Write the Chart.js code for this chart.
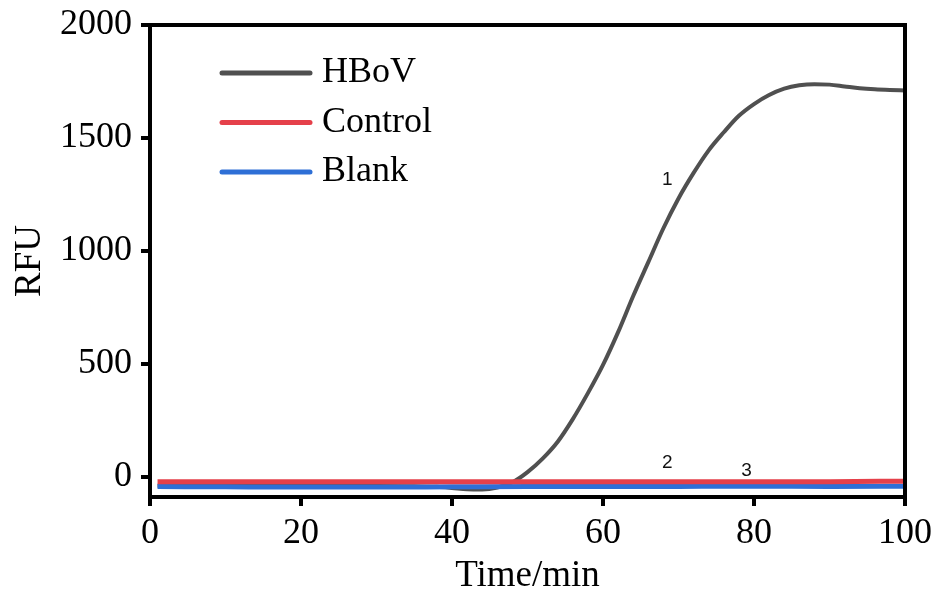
<!DOCTYPE html>
<html>
<head>
<meta charset="utf-8">
<script src="https://cdn.jsdelivr.net/npm/chart.js@4/dist/chart.umd.min.js"></script>
<style>
  html, body { margin: 0; padding: 0; background: #fff; }
  #wrap { width: 939px; height: 598px; }
</style>
</head>
<body>
<div id="wrap"><canvas id="rfuChart"></canvas></div>
<script>
// amplification curves, RFU vs time (min)
const hbovTime = [1, 5, 10, 15, 20, 25, 30, 35, 38, 40, 42, 44, 46, 48, 50, 52, 54, 56, 58, 60,
  62, 64, 66, 68, 70, 72, 74, 76, 78, 80, 82, 84, 86, 88, 90, 92, 94, 96, 98, 100];
const hbovRfu = [-40, -40, -40, -41, -41, -41, -41, -42, -45, -50, -56, -57, -48, -25, 20, 80, 155, 255, 370, 495,
  640, 800, 950, 1100, 1232, 1345, 1445, 1525, 1598, 1650, 1690, 1718, 1733, 1738, 1736, 1728, 1720, 1715, 1712, 1710];

const controlTime = [1, 10, 20, 30, 40, 50, 60, 70, 80, 90, 100];
const controlRfu = [-22, -22, -22, -22, -22, -23, -22, -22, -22, -22, -20];

const blankTime = [1, 10, 20, 30, 40, 50, 60, 70, 80, 90, 100];
const blankRfu = [-44, -45, -46, -46, -45, -44, -44, -43, -42, -43, -42];

const xTicks = [0, 20, 40, 60, 80, 100];
const yTicks = [0, 500, 1000, 1500, 2000];

// curve numbers written next to the lines
const curveTags = ['1', '2', '3'];
const tagX = [68.5, 68.5, 79];
const tagY = [1314, 62, 27];

const toPoints = (xs, ys) => xs.map((x, i) => ({ x, y: ys[i] }));

const serif = '"Liberation Serif", "Times New Roman", serif';

const frameAndLegend = {
  id: 'frameAndLegend',
  afterDatasetsDraw(chart) {
    const { ctx, chartArea: a, scales } = chart;
    ctx.save();
    // closed box around the plot
    ctx.strokeStyle = '#000';
    ctx.lineWidth = 4;
    ctx.strokeRect(a.left, a.top, a.right - a.left, a.bottom - a.top);

    // numbered tags
    ctx.fillStyle = '#111';
    ctx.font = '19px "Liberation Sans", Arial, sans-serif';
    ctx.textAlign = 'center';
    ctx.textBaseline = 'middle';
    curveTags.forEach((t, i) => {
      ctx.fillText(t, scales.x.getPixelForValue(tagX[i]), scales.y.getPixelForValue(tagY[i]));
    });

    // legend, top-left inside the box
    const lx = a.left + 72, ly = a.top + 48, gap = 49.5;
    ctx.font = '36px ' + serif;
    ctx.textAlign = 'left';
    chart.data.datasets.forEach((ds, i) => {
      const y = ly + i * gap;
      ctx.strokeStyle = ds.borderColor;
      ctx.lineWidth = 5;
      ctx.lineCap = 'round';
      ctx.beginPath();
      ctx.moveTo(lx, y);
      ctx.lineTo(lx + 88, y);
      ctx.stroke();
      ctx.fillStyle = '#000';
      ctx.fillText(ds.label, lx + 100, y);
    });
    ctx.restore();
  }
};

const plainTick = v => String(v);

new Chart(document.getElementById('rfuChart'), {
  type: 'line',
  data: {
    datasets: [
      { label: 'HBoV', data: toPoints(hbovTime, hbovRfu), borderColor: '#505050', borderWidth: 4, order: 3 },
      { label: 'Control', data: toPoints(controlTime, controlRfu), borderColor: '#e5404a', borderWidth: 5, order: 1 },
      { label: 'Blank', data: toPoints(blankTime, blankRfu), borderColor: '#2e6fd6', borderWidth: 5, order: 2 }
    ]
  },
  options: {
    responsive: true,
    maintainAspectRatio: false,
    animation: false,
    layout: { padding: { top: 25, right: 34, left: 0, bottom: 0 } },
    elements: {
      point: { radius: 0 },
      line: { cubicInterpolationMode: 'monotone', fill: false }
    },
    scales: {
      x: {
        type: 'linear',
        min: 0,
        max: 100,
        afterBuildTicks: s => { s.ticks = xTicks.map(v => ({ value: v })); },
        afterFit: s => { s.height = 101; s.paddingLeft = 0; s.paddingRight = 0; },
        border: { display: false },
        grid: { drawOnChartArea: false, drawTicks: true, tickLength: 9, lineWidth: 4, color: '#000' },
        ticks: { color: '#000', padding: 6, maxRotation: 0, callback: plainTick, font: { family: serif, size: 36 } },
        title: { display: true, text: 'Time/min', color: '#000', padding: { top: 0, bottom: 0 }, font: { family: serif, size: 37 } }
      },
      y: {
        type: 'linear',
        min: -90,
        max: 2000,
        afterBuildTicks: s => { s.ticks = yTicks.map(v => ({ value: v })); },
        afterFit: s => { s.width = 150; s.paddingTop = 0; s.paddingBottom = 0; },
        border: { display: false },
        grid: { drawOnChartArea: false, drawTicks: true, tickLength: 9, lineWidth: 4, color: '#000' },
        ticks: { color: '#000', padding: 9, callback: plainTick, font: { family: serif, size: 36 } },
        title: { display: true, text: 'RFU', color: '#000', padding: { top: 8, bottom: 0 }, font: { family: serif, size: 37 } }
      }
    },
    plugins: {
      legend: { display: false },
      tooltip: { enabled: false }
    }
  },
  plugins: [frameAndLegend]
});
</script>
</body>
</html>
